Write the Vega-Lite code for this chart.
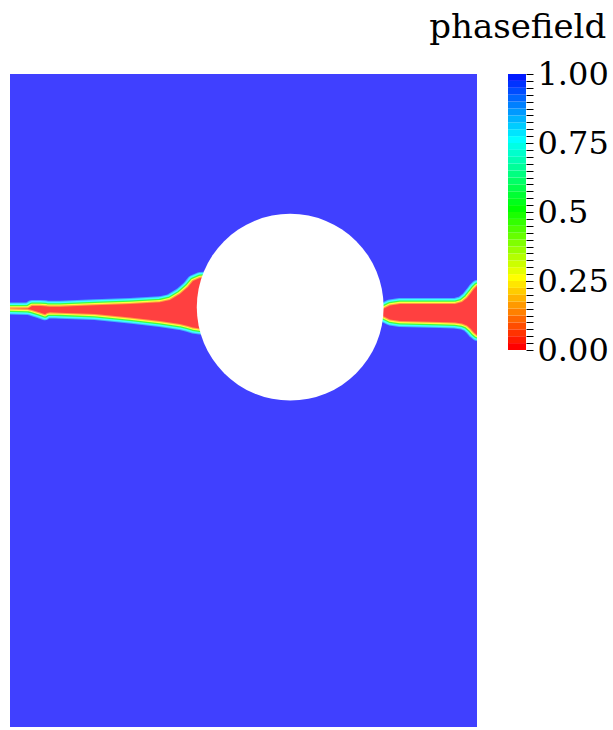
{
  "$schema": "https://vega.github.io/schema/vega-lite/v6.json",
  "padding": {"left": 10, "top": 11, "right": 0, "bottom": 0},
  "background": "white",
  "title": {"text": "phasefield", "anchor": "end", "frame": "bounds", "fontSize": 34, "font": "DejaVu Serif", "fontWeight": "normal", "color": "#000000", "offset": 13, "dx": -2},
  "config": {"view": {"stroke": null}, "font": "DejaVu Serif"},
  "datasets": {
    "domain": [{"x": 0, "x2": 1, "y": 0, "y2": 1.4, "phase": 1}],
    "hole": [{"x": 0.6, "y": 0.9}],
    "cracks": [
      {"crack": "L", "x": -0.03, "top": 0.8973, "bot": 0.8973},
      {"crack": "L", "x": 0, "top": 0.8973, "bot": 0.8973},
      {"crack": "L", "x": 0.0385, "top": 0.8973, "bot": 0.8962},
      {"crack": "L", "x": 0.0471, "top": 0.9027, "bot": 0.8941},
      {"crack": "L", "x": 0.0642, "top": 0.9027, "bot": 0.8887},
      {"crack": "L", "x": 0.0749, "top": 0.902, "bot": 0.8849},
      {"crack": "L", "x": 0.0792, "top": 0.9016, "bot": 0.8877},
      {"crack": "L", "x": 0.0857, "top": 0.9012, "bot": 0.8891},
      {"crack": "L", "x": 0.1071, "top": 0.9012, "bot": 0.8883},
      {"crack": "L", "x": 0.182, "top": 0.9042, "bot": 0.8855},
      {"crack": "L", "x": 0.257, "top": 0.9069, "bot": 0.878},
      {"crack": "L", "x": 0.3212, "top": 0.9106, "bot": 0.8705},
      {"crack": "L", "x": 0.3426, "top": 0.9155, "bot": 0.8673},
      {"crack": "L", "x": 0.364, "top": 0.9284, "bot": 0.8641},
      {"crack": "L", "x": 0.3812, "top": 0.9434, "bot": 0.8598},
      {"crack": "L", "x": 0.3919, "top": 0.9563, "bot": 0.8566},
      {"crack": "L", "x": 0.4069, "top": 0.9627, "bot": 0.8544},
      {"crack": "L", "x": 0.4497, "top": 0.9648, "bot": 0.8533},
      {"crack": "R", "x": 0.7709, "top": 0.8962, "bot": 0.8812},
      {"crack": "R", "x": 0.7987, "top": 0.8962, "bot": 0.8812},
      {"crack": "R", "x": 0.8137, "top": 0.9037, "bot": 0.8737},
      {"crack": "R", "x": 0.8351, "top": 0.9069, "bot": 0.8705},
      {"crack": "R", "x": 0.8779, "top": 0.9069, "bot": 0.8694},
      {"crack": "R", "x": 0.9208, "top": 0.9069, "bot": 0.8683},
      {"crack": "R", "x": 0.9529, "top": 0.9069, "bot": 0.8673},
      {"crack": "R", "x": 0.9679, "top": 0.9112, "bot": 0.8651},
      {"crack": "R", "x": 0.9786, "top": 0.9198, "bot": 0.8608},
      {"crack": "R", "x": 0.9872, "top": 0.9305, "bot": 0.8533},
      {"crack": "R", "x": 0.9936, "top": 0.9391, "bot": 0.8458},
      {"crack": "R", "x": 1.0, "top": 0.9455, "bot": 0.8405},
      {"crack": "R", "x": 1.0278, "top": 0.9477, "bot": 0.8384}
    ],
    "bar": [
      {"lo": 0, "hi": 0.025}, {"lo": 0.025, "hi": 0.05}, {"lo": 0.05, "hi": 0.075}, {"lo": 0.075, "hi": 0.1},
      {"lo": 0.1, "hi": 0.125}, {"lo": 0.125, "hi": 0.15}, {"lo": 0.15, "hi": 0.175}, {"lo": 0.175, "hi": 0.2},
      {"lo": 0.2, "hi": 0.225}, {"lo": 0.225, "hi": 0.25}, {"lo": 0.25, "hi": 0.275}, {"lo": 0.275, "hi": 0.3},
      {"lo": 0.3, "hi": 0.325}, {"lo": 0.325, "hi": 0.35}, {"lo": 0.35, "hi": 0.375}, {"lo": 0.375, "hi": 0.4},
      {"lo": 0.4, "hi": 0.425}, {"lo": 0.425, "hi": 0.45}, {"lo": 0.45, "hi": 0.475}, {"lo": 0.475, "hi": 0.5},
      {"lo": 0.5, "hi": 0.525}, {"lo": 0.525, "hi": 0.55}, {"lo": 0.55, "hi": 0.575}, {"lo": 0.575, "hi": 0.6},
      {"lo": 0.6, "hi": 0.625}, {"lo": 0.625, "hi": 0.65}, {"lo": 0.65, "hi": 0.675}, {"lo": 0.675, "hi": 0.7},
      {"lo": 0.7, "hi": 0.725}, {"lo": 0.725, "hi": 0.75}, {"lo": 0.75, "hi": 0.775}, {"lo": 0.775, "hi": 0.8},
      {"lo": 0.8, "hi": 0.825}, {"lo": 0.825, "hi": 0.85}, {"lo": 0.85, "hi": 0.875}, {"lo": 0.875, "hi": 0.9},
      {"lo": 0.9, "hi": 0.925}, {"lo": 0.925, "hi": 0.95}, {"lo": 0.95, "hi": 0.975}, {"lo": 0.975, "hi": 1.0}
    ]
  },
  "hconcat": [
    {
      "width": 467,
      "height": 653,
      "layer": [
        {
          "data": {"name": "domain"},
          "mark": {"type": "rect", "color": "#4040FF", "clip": true},
          "encoding": {
            "x": {"field": "x", "type": "quantitative", "scale": {"domain": [0, 1], "nice": false, "zero": false}, "axis": null},
            "x2": {"field": "x2"},
            "y": {"field": "y", "type": "quantitative", "scale": {"domain": [0, 1.4], "nice": false, "zero": false}, "axis": null},
            "y2": {"field": "y2"}
          }
        },
        {
          "data": {"name": "cracks"},
          "mark": {"type": "area", "clip": true, "fill": "#40B0FF", "stroke": "#40B0FF", "strokeWidth": 12, "strokeJoin": "round"},
          "encoding": {
            "x": {"field": "x", "type": "quantitative"},
            "y": {"field": "top", "type": "quantitative"},
            "y2": {"field": "bot"},
            "detail": {"field": "crack"}
          }
        },
        {
          "data": {"name": "cracks"},
          "mark": {"type": "area", "clip": true, "fill": "#40FFFF", "stroke": "#40FFFF", "strokeWidth": 10, "strokeJoin": "round"},
          "encoding": {
            "x": {"field": "x", "type": "quantitative"},
            "y": {"field": "top", "type": "quantitative"},
            "y2": {"field": "bot"},
            "detail": {"field": "crack"}
          }
        },
        {
          "data": {"name": "cracks"},
          "mark": {"type": "area", "clip": true, "fill": "#40FF40", "stroke": "#40FF40", "strokeWidth": 7, "strokeJoin": "round"},
          "encoding": {
            "x": {"field": "x", "type": "quantitative"},
            "y": {"field": "top", "type": "quantitative"},
            "y2": {"field": "bot"},
            "detail": {"field": "crack"}
          }
        },
        {
          "data": {"name": "cracks"},
          "mark": {"type": "area", "clip": true, "fill": "#FFFF40", "stroke": "#FFFF40", "strokeWidth": 4.4, "strokeJoin": "round"},
          "encoding": {
            "x": {"field": "x", "type": "quantitative"},
            "y": {"field": "top", "type": "quantitative"},
            "y2": {"field": "bot"},
            "detail": {"field": "crack"}
          }
        },
        {
          "data": {"name": "cracks"},
          "mark": {"type": "area", "clip": true, "fill": "#FFA040", "stroke": "#FFA040", "strokeWidth": 2.2, "strokeJoin": "round"},
          "encoding": {
            "x": {"field": "x", "type": "quantitative"},
            "y": {"field": "top", "type": "quantitative"},
            "y2": {"field": "bot"},
            "detail": {"field": "crack"}
          }
        },
        {
          "data": {"name": "cracks"},
          "mark": {"type": "area", "clip": true, "fill": "#FF4040"},
          "encoding": {
            "x": {"field": "x", "type": "quantitative"},
            "y": {"field": "top", "type": "quantitative"},
            "y2": {"field": "bot"},
            "detail": {"field": "crack"}
          }
        },
        {
          "data": {"name": "hole"},
          "mark": {"type": "point", "shape": "circle", "filled": true, "size": 34900, "fill": "#FFFFFF", "opacity": 1, "strokeWidth": 0},
          "encoding": {
            "x": {"field": "x", "type": "quantitative"},
            "y": {"field": "y", "type": "quantitative"}
          }
        }
      ]
    },
    {
      "width": 18,
      "height": 276,
      "data": {"name": "bar"},
      "mark": {"type": "rect"},
      "encoding": {
        "y": {
          "field": "lo", "type": "quantitative",
          "scale": {"domain": [0, 1], "nice": false, "zero": false},
          "axis": {
            "orient": "right", "offset": -8, "domain": false, "grid": false, "title": null,
            "values": [0, 0.025, 0.05, 0.075, 0.1, 0.125, 0.15, 0.175, 0.2, 0.225, 0.25, 0.275, 0.3, 0.325, 0.35, 0.375, 0.4, 0.425, 0.45, 0.475, 0.5, 0.525, 0.55, 0.575, 0.6, 0.625, 0.65, 0.675, 0.7, 0.725, 0.75, 0.775, 0.8, 0.825, 0.85, 0.875, 0.9, 0.925, 0.95, 0.975, 1],
            "tickSize": 15, "tickColor": "#000000", "tickWidth": 1,
            "tickDash": {"condition": {"test": "datum.value == 0.25 || datum.value == 0.5 || datum.value == 0.75", "value": [15, 0]}, "value": [0, 8, 7, 0]},
            "labelExpr": "datum.value == 1 ? '1.00' : datum.value == 0.75 ? '0.75' : datum.value == 0.5 ? '0.5' : datum.value == 0.25 ? '0.25' : datum.value == 0 ? '0.00' : ''",
            "labelFont": "DejaVu Serif", "labelFontSize": 32, "labelColor": "#000000", "labelPadding": 4,
            "labelFlush": false, "labelOverlap": false, "labelBound": false
          }
        },
        "y2": {"field": "hi"},
        "color": {
          "field": "lo", "type": "quantitative",
          "scale": {"domain": [0, 0.25, 0.5, 0.75, 1], "range": ["#ff0000", "#ffff00", "#00ff00", "#00ffff", "#0000ff"], "interpolate": "rgb"},
          "legend": null
        }
      }
    }
  ],
  "spacing": 31
}
